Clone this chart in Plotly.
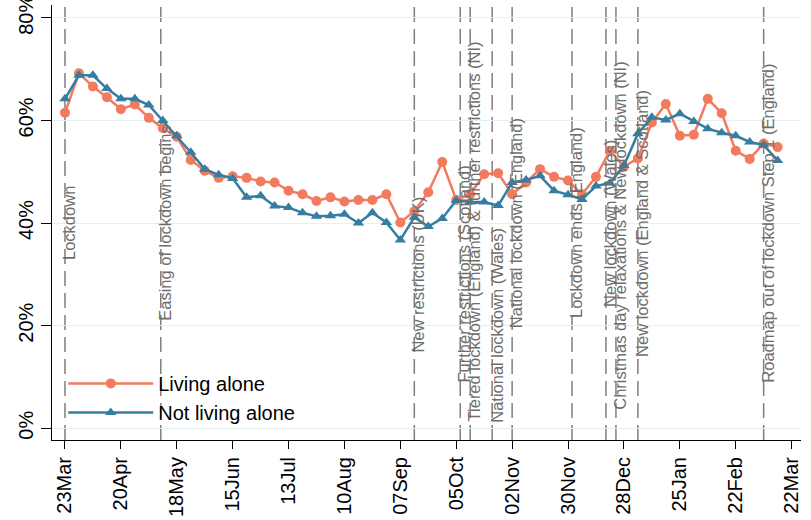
import plotly.graph_objects as go
import pandas as pd

# ---- data (weekly, from 23 Mar 2020) ----
week_start = "2020-03-23"
n_weeks = 52
living_alone = [61.5, 69.2, 66.6, 64.5, 62.2, 63.1, 60.5, 58.5, 56.8, 52.3,
                50.2, 48.8, 49.1, 48.8, 48.1, 47.9, 46.3, 45.6, 44.3, 45.0,
                44.2, 44.5, 44.5, 45.6, 40.1, 42.3, 46.0, 51.9, 44.5, 45.6,
                49.5, 49.7, 45.6, 47.9, 50.5, 49.0, 48.3, 45.6, 49.0, 54.1,
                51.0, 52.6, 59.6, 63.2, 57.0, 57.2, 64.2, 61.4, 54.1, 52.5,
                55.5, 54.8]
not_living_alone = [64.2, 68.8, 68.8, 66.2, 64.2, 64.2, 63.0, 60.0, 57.0, 53.8,
                    50.5, 49.4, 48.7, 45.0, 45.3, 43.3, 43.0, 42.0, 41.3, 41.4,
                    41.7, 40.0, 42.0, 40.1, 36.7, 41.1, 39.3, 40.9, 44.4, 44.1,
                    44.1, 43.4, 47.9, 48.4, 49.2, 46.3, 45.5, 44.6, 47.2, 47.8,
                    51.2, 57.4, 60.6, 60.1, 61.3, 59.8, 58.4, 57.6, 57.0, 55.8,
                    55.2, 52.2]

tick_labels = ["23Mar", "20Apr", "18May", "15Jun", "13Jul", "10Aug", "07Sep",
               "05Oct", "02Nov", "30Nov", "28Dec", "25Jan", "22Feb", "22Mar"]
y_ticks = [0, 20, 40, 60, 80]
y_tick_labels = ["0%", "20%", "40%", "60%", "80%"]

event_dates = ["2020-03-23", "2020-05-10", "2020-09-14", "2020-10-07",
               "2020-10-12", "2020-10-23", "2020-11-02", "2020-12-02",
               "2020-12-19", "2020-12-24", "2021-01-04", "2021-03-08"]
event_labels = ["Lockdown",
                "Easing of lockdown begins",
                "New restrictions (UK)",
                "Further restrictions (Scotland)",
                "Tiered lockdown (England) & further restrictions (NI)",
                "National lockdown (Wales)",
                "National lockdown (England)",
                "Lockdown ends (England)",
                "New lockdown (Wales)",
                "Christmas day relaxations & New lockdown (NI)",
                "New lockdown (England & Scotland)",
                "Roadmap out of lockdown Step 1 (England)"]
event_label_y = [40, 40, 30, 30, 38.4, 20, 40, 40, 40, 37.5, 40, 40]

# ---- build ----
dates = pd.date_range(week_start, periods=n_weeks, freq="7D")
tick_dates = pd.date_range(week_start, periods=len(tick_labels), freq="28D")

FONT = "Liberation Sans, Arial, sans-serif"
ORANGE = "#F27B5F"
BLUE = "#357DA1"

fig = go.Figure()
fig.add_trace(go.Scatter(
    x=dates, y=living_alone, name="Living alone", mode="lines+markers",
    line=dict(color=ORANGE, width=2.5),
    marker=dict(symbol="circle", size=10, color=ORANGE)))
fig.add_trace(go.Scatter(
    x=dates, y=not_living_alone, name="Not living alone", mode="lines+markers",
    line=dict(color=BLUE, width=2.5),
    marker=dict(symbol="triangle-up", size=10, color=BLUE)))

for d, lab, ly in zip(event_dates, event_labels, event_label_y):
    fig.add_shape(type="line", xref="x", yref="paper", x0=d, x1=d, y0=0, y1=1,
                  line=dict(color="#7F7F7F", width=1.5, dash="15px,7px"),
                  layer="below")
    fig.add_annotation(x=d, y=ly, xref="x", yref="y", text=lab, textangle=-90,
                       showarrow=False, xanchor="center", yanchor="middle",
                       xshift=4, font=dict(family=FONT, size=16.5, color="#6E6E6E"))

fig.update_layout(
    width=811, height=520,
    margin=dict(l=52, r=10, t=5, b=80, autoexpand=False),
    paper_bgcolor="white", plot_bgcolor="white",
    font=dict(family=FONT, color="black"),
    showlegend=True,
    legend=dict(x=0.015, y=0.175, xanchor="left", yanchor="top",
                bgcolor="rgba(0,0,0,0)", borderwidth=0,
                font=dict(family=FONT, size=20, color="black"),
                itemwidth=85, tracegroupgap=0),
    xaxis=dict(type="date", range=["2020-03-16 12:00", "2021-03-26 17:00"],
               tickvals=tick_dates, ticktext=tick_labels, tickangle=-90,
               ticks="outside", ticklen=8, tickcolor="black", tickwidth=1,
               showline=True, linecolor="black", linewidth=1,
               showgrid=False, zeroline=False, automargin=False,
               ticklabeloverflow="allow",
               tickfont=dict(family=FONT, size=20, color="black")),
    yaxis=dict(range=[-2.3, 82.5], tickvals=y_ticks, ticktext=y_tick_labels,
               tickangle=-90, ticks="outside", ticklen=10, tickcolor="black",
               tickwidth=1, showline=True, linecolor="black", linewidth=1,
               showgrid=True, gridcolor="#E6EFF1", gridwidth=1,
               zeroline=False, automargin=False,
               ticklabeloverflow="allow",
               tickfont=dict(family=FONT, size=20, color="black")),
)

fig.write_html("out.html",
               config={"displayModeBar": False},
               post_script="document.body.style.margin='0px';"
                           "document.body.style.overflow='hidden';")
